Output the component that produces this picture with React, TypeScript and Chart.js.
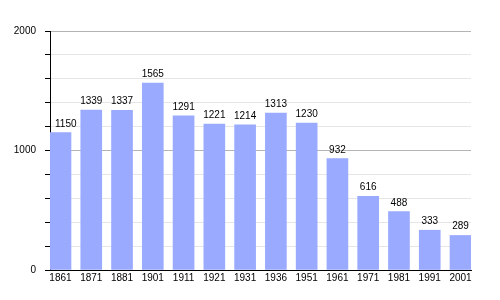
import React, { useEffect, useRef } from "react";
import { Chart, registerables } from "chart.js";

Chart.register(...registerables);

const years = ["1861", "1871", "1881", "1901", "1911", "1921", "1931", "1936", "1951", "1961", "1971", "1981", "1991", "2001"];
const population = [1150, 1339, 1337, 1565, 1291, 1221, 1214, 1313, 1230, 932, 616, 488, 333, 289];
const yMajorTicks = [0, 1000, 2000];

const FONT = "'Liberation Sans', Arial, sans-serif";

const valueLabels = {
  id: "valueLabels",
  afterDatasetsDraw(chart: any) {
    const ctx = chart.ctx;
    const meta = chart.getDatasetMeta(0);
    const left = chart.chartArea.left;
    ctx.save();
    ctx.font = `10px ${FONT}`;
    ctx.fillStyle = "#000";
    ctx.textAlign = "center";
    ctx.textBaseline = "alphabetic";
    meta.data.forEach((el: any, i: number) => {
      const txt = String(population[i]);
      const w = ctx.measureText(txt).width;
      const x = Math.max(el.x, left + w / 2 + 5);
      ctx.fillText(txt, x, el.y - 6);
    });
    ctx.restore();
  },
};

export default function App() {
  const ref = useRef<HTMLCanvasElement>(null);
  useEffect(() => {
    document.body.style.margin = "0";
    const chart = new Chart(ref.current!, {
      type: "bar",
      data: {
        datasets: [
          {
            data: population.map((v, i) => ({ x: i, y: v })),
            backgroundColor: "#9aabff",
            borderWidth: 0,
            barThickness: 21,
          },
        ],
      },
      options: {
        animation: false,
        responsive: false,
        layout: { padding: { top: 31, right: 29, bottom: 0, left: 0 } },
        plugins: { legend: { display: false }, tooltip: { enabled: false } },
        scales: {
          x: {
            type: "linear",
            min: -0.341,
            max: 13.341,
            offset: false,
            afterBuildTicks(scale: any) {
              scale.ticks = years.map((_, i) => ({ value: i }));
            },
            ticks: {
              autoSkip: false,
              maxRotation: 0,
              includeBounds: false,
              padding: 2,
              color: "#000",
              font: { family: FONT, size: 10 },
              callback: (v: any) => years[v as number] ?? "",
            },
            grid: { display: false, drawTicks: false },
            border: { display: true, color: "#000", width: 1 },
            afterFit(scale: any) {
              scale.height = 30;
            },
          },
          y: {
            min: 0,
            max: 2000,
            afterBuildTicks(scale: any) {
              const t = [];
              for (let v = 0; v <= 2000; v += 200) t.push({ value: v });
              scale.ticks = t;
            },
            ticks: {
              padding: 9,
              color: "#000",
              font: { family: FONT, size: 10 },
              callback: (v: any) => (yMajorTicks.includes(v as number) ? String(v) : ""),
            },
            grid: {
              color: (c: any) =>
                c.tick && c.tick.value === 0 ? "rgba(0,0,0,0)" : c.tick && c.tick.value % 1000 === 0 ? "#b4b4b4" : "#e6e6e6",
              tickColor: "#000",
              tickLength: 5,
            },
            border: { display: true, color: "#000", width: 1 },
            afterFit(scale: any) {
              scale.width = 50;
            },
          },
        },
      },
      plugins: [valueLabels],
    } as any);
    return () => chart.destroy();
  }, []);
  return <canvas ref={ref} width={500} height={300} style={{ display: "block" }} />;
}
